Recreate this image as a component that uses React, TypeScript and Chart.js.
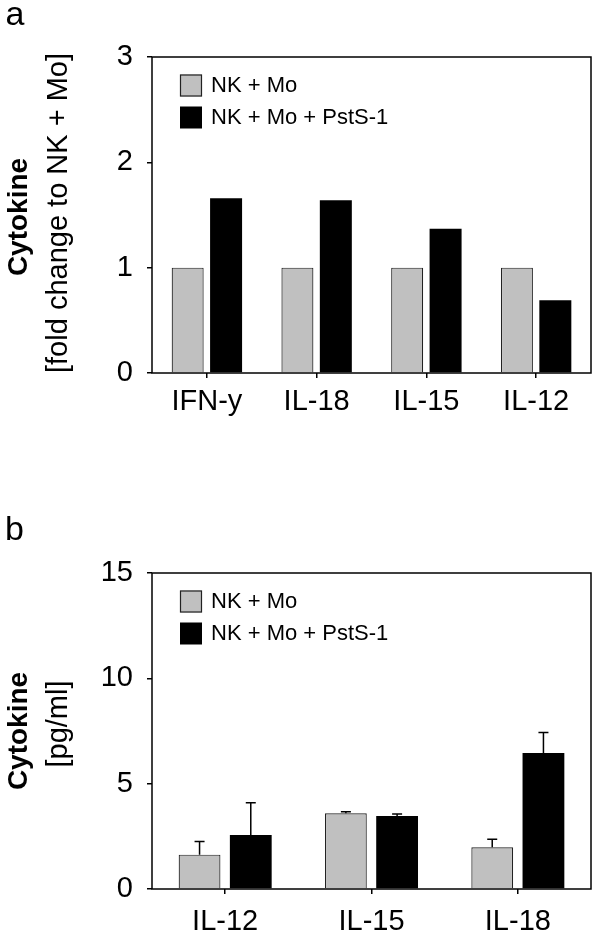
import React, { useEffect, useRef } from 'react';
import { Chart, registerables } from 'chart.js';

Chart.register(...registerables);

// ---- data ----
const seriesLabels = ['NK + Mo', 'NK + Mo + PstS-1'];
const seriesColors = ['#c0c0c0', '#000000'];
const seriesBorders = ['#222222', '#000000'];

const foldCategories = ['IFN-y', 'IL-18', 'IL-15', 'IL-12'];
const foldControl = [1, 1, 1, 1];
const foldPstS1 = [1.66, 1.64, 1.37, 0.69];
const foldTicks = [0, 1, 2, 3];

const pgCategories = ['IL-12', 'IL-15', 'IL-18'];
const pgControl = [1.63, 3.59, 1.98];
const pgControlErr = [0.63, 0.08, 0.38];
const pgPstS1 = [2.56, 3.46, 6.46];
const pgPstS1Err = [1.53, 0.1, 0.97];
const pgTicks = [0, 5, 10, 15];

const FONT = '"Liberation Sans", Arial, Helvetica, sans-serif';

type Spec = {
  letter: string;
  letterX: number;
  letterY: number;
  top: number;
  height: number;
  plotTop: number;
  plotBottom: number;
  categories: string[];
  series: number[][];
  errors?: number[][];
  ticks: number[];
  yMax: number;
  barPct: number;
  xPad: number;
  titleBold: string;
  titleNormal: string;
  titleBoldY: number;
  titleNormalY: number;
};

const specA: Spec = {
  letter: 'a',
  letterX: 5.5,
  letterY: 25,
  top: 0,
  height: 460,
  plotTop: 57,
  plotBottom: 373,
  categories: foldCategories,
  series: [foldControl, foldPstS1],
  ticks: foldTicks,
  yMax: 3,
  barPct: 0.833,
  xPad: 7,
  titleBold: 'Cytokine',
  titleNormal: '[fold change to NK + Mo]',
  titleBoldY: 217,
  titleNormalY: 213,
};

const specB: Spec = {
  letter: 'b',
  letterX: 5,
  letterY: 80,
  top: 460,
  height: 477,
  plotTop: 113,
  plotBottom: 429,
  categories: pgCategories,
  series: [pgControl, pgPstS1],
  errors: [pgControlErr, pgPstS1Err],
  ticks: pgTicks,
  yMax: 15,
  barPct: 0.816,
  xPad: 10.5,
  titleBold: 'Cytokine',
  titleNormal: '[pg/ml]',
  titleBoldY: 271,
  titleNormalY: 264,
};

const framePlugin = {
  id: 'frame',
  afterDatasetsDraw(chart: any) {
    const { ctx, chartArea } = chart;
    ctx.save();
    ctx.strokeStyle = '#000';
    ctx.lineWidth = 1.5;
    ctx.strokeRect(chartArea.left, chartArea.top, chartArea.right - chartArea.left, chartArea.bottom - chartArea.top);
    ctx.restore();
  },
};

const errorPlugin = {
  id: 'errorBars',
  afterDatasetsDraw(chart: any) {
    const { ctx } = chart;
    const yScale = chart.scales.y;
    chart.data.datasets.forEach((ds: any, i: number) => {
      if (!ds.errorBars) return;
      const meta = chart.getDatasetMeta(i);
      meta.data.forEach((el: any, j: number) => {
        const v = ds.data[j];
        const e = ds.errorBars[j];
        const y0 = yScale.getPixelForValue(v);
        const y1 = yScale.getPixelForValue(v + e);
        ctx.save();
        ctx.strokeStyle = '#000';
        ctx.lineWidth = 1.5;
        ctx.beginPath();
        ctx.moveTo(el.x, y0);
        ctx.lineTo(el.x, y1);
        ctx.moveTo(el.x - 5, y1);
        ctx.lineTo(el.x + 5, y1);
        ctx.stroke();
        ctx.restore();
      });
    });
  },
};

const legendPlugin = {
  id: 'insideLegend',
  afterDraw(chart: any) {
    const { ctx, chartArea } = chart;
    const x0 = chartArea.left + 28;
    const y0 = chartArea.top + 17.5;
    chart.data.datasets.forEach((ds: any, i: number) => {
      const y = y0 + i * 32;
      ctx.save();
      ctx.fillStyle = ds.backgroundColor;
      ctx.fillRect(x0, y, 22, 22);
      if (i === 0) {
        ctx.strokeStyle = '#222';
        ctx.lineWidth = 1.2;
        ctx.strokeRect(x0 + 0.5, y + 0.5, 21, 21);
      }
      ctx.fillStyle = '#000';
      ctx.font = `22px ${FONT}`;
      ctx.textBaseline = 'middle';
      ctx.textAlign = 'left';
      ctx.fillText(ds.label, x0 + 31, y + 11.5);
      ctx.restore();
    });
  },
};

function textPlugin(p: Spec) {
  return {
    id: 'panelText',
    afterDraw(chart: any) {
      const { ctx } = chart;
      ctx.save();
      ctx.fillStyle = '#000';
      ctx.textBaseline = 'alphabetic';
      ctx.textAlign = 'left';
      ctx.font = `34px ${FONT}`;
      ctx.fillText(p.letter, p.letterX, p.letterY);

      ctx.textAlign = 'center';
      ctx.save();
      ctx.translate(27, p.titleBoldY);
      ctx.rotate(-Math.PI / 2);
      ctx.font = `bold 28px ${FONT}`;
      ctx.fillText(p.titleBold, 0, 0);
      ctx.restore();

      ctx.save();
      ctx.translate(67, p.titleNormalY);
      ctx.rotate(-Math.PI / 2);
      ctx.font = `29px ${FONT}`;
      ctx.fillText(p.titleNormal, 0, 0);
      ctx.restore();
      ctx.restore();
    },
  };
}

function Panel({ spec }: { spec: Spec }) {
  const ref = useRef<HTMLCanvasElement>(null);
  useEffect(() => {
    const p = spec;
    const datasets = p.series.map((vals, i) => ({
      label: seriesLabels[i],
      data: vals,
      backgroundColor: seriesColors[i],
      borderColor: seriesBorders[i],
      borderWidth: i === 0 ? 1.2 : 0,
      barPercentage: p.barPct,
      categoryPercentage: 0.7,
      errorBars: p.errors ? p.errors[i] : undefined,
    }));
    const chart = new Chart(ref.current as HTMLCanvasElement, {
      type: 'bar',
      data: { labels: p.categories, datasets: datasets as any },
      options: {
        responsive: false,
        animation: false,
        devicePixelRatio: 1,
        layout: { padding: { top: p.plotTop, right: 9, left: 0, bottom: 0 } },
        plugins: {
          legend: { display: false },
          tooltip: { enabled: false },
          title: { display: false },
        },
        scales: {
          x: {
            grid: {
              display: true,
              drawOnChartArea: false,
              drawTicks: true,
              tickLength: 5,
              offset: false,
              color: '#000',
              lineWidth: 1.5,
            },
            border: { display: false },
            ticks: {
              color: '#000',
              font: { family: FONT, size: 29 },
              padding: p.xPad,
              maxRotation: 0,
              autoSkip: false,
            },
            afterFit: (s: any) => {
              s.height = p.height - p.plotBottom;
            },
          },
          y: {
            min: 0,
            max: p.yMax,
            grid: {
              display: true,
              drawOnChartArea: false,
              drawTicks: true,
              tickLength: 5,
              color: '#000',
              lineWidth: 1.5,
            },
            border: { display: false },
            ticks: {
              color: '#000',
              font: { family: FONT, size: 29 },
              padding: 14,
            },
            afterBuildTicks: (s: any) => {
              s.ticks = p.ticks.map((v) => ({ value: v }));
            },
            afterFit: (s: any) => {
              s.width = 152;
            },
          },
        },
      } as any,
      plugins: [framePlugin, errorPlugin, legendPlugin, textPlugin(p)],
    });
    return () => chart.destroy();
  }, [spec]);
  return (
    <canvas
      ref={ref}
      width={600}
      height={spec.height}
      style={{ position: 'absolute', left: 0, top: spec.top, width: 600, height: spec.height }}
    />
  );
}

export default function App() {
  return (
    <div style={{ position: 'absolute', left: 0, top: 0, width: 600, height: 937, background: '#fff' }}>
      <Panel spec={specA} />
      <Panel spec={specB} />
    </div>
  );
}
